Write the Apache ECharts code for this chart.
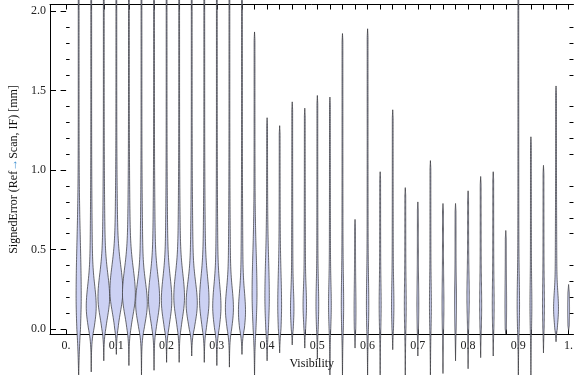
<!DOCTYPE html>
<html>
<head>
<meta charset="utf-8">
<script src="https://cdn.jsdelivr.net/npm/echarts@6/dist/echarts.min.js"></script>
<style>html,body{margin:0;padding:0;background:#fff}#c{width:576px;height:375px}</style>
</head>
<body>
<div id="c"></div>
<script>
// Violin positions (Visibility)
const positions = [0.025,0.05,0.075,0.1,0.125,0.15,0.175,0.2,0.225,0.25,
  0.275,0.3,0.325,0.35,0.375,0.4,0.425,0.45,0.475,0.5,
  0.525,0.55,0.575,0.6,0.625,0.65,0.675,0.7,0.725,0.75,
  0.775,0.8,0.825,0.85,0.875,0.9,0.925,0.95,0.975,1.0];
// Upper extreme of each distribution (mm)
const upper = [2.5,2.5,2.5,2.5,2.5,2.5,2.5,2.5,2.5,2.5,
  2.5,2.5,2.5,2.5,1.87,1.33,1.28,1.43,1.39,1.47,
  1.46,1.86,0.69,1.89,0.99,1.38,0.89,0.80,1.06,0.79,
  0.79,0.87,0.96,0.99,0.62,2.5,1.21,1.03,1.53,0.28];
// Lower extreme of each distribution (mm)
const lower = [-0.32,-0.27,-0.20,-0.16,-0.23,-0.32,-0.26,-0.21,-0.21,-0.17,
  -0.21,-0.23,-0.24,-0.16,-0.32,-0.20,-0.15,-0.10,-0.12,-0.19,
  -0.32,-0.32,-0.12,-0.32,-0.32,-0.13,-0.32,-0.17,-0.32,-0.28,
  -0.20,-0.25,-0.18,-0.17,-0.03,-0.32,-0.32,-0.15,-0.08,-0.01];
// Mode (densest value) of each distribution (mm)
const mode = [0.20,0.14,0.20,0.24,0.22,0.16,0.19,0.18,0.20,0.16,
  0.18,0.14,0.13,0.11,0.22,0.20,0.15,0.13,0.15,0.15,
  0.15,0.15,0.12,0.15,0.15,0.15,0.15,0.15,0.15,0.15,
  0.15,0.20,0.15,0.15,0.15,0.15,0.15,0.15,0.13,0.12];
// Relative peak density (1 = widest violin)
const peak = [0.36,0.76,0.90,1.00,1.00,0.90,0.86,0.80,0.82,0.86,
  0.72,0.62,0.60,0.52,0.34,0.30,0.25,0.22,0.22,0.16,
  0.16,0.13,0.09,0.13,0.10,0.13,0.09,0.09,0.09,0.09,
  0.09,0.13,0.10,0.09,0.07,0.13,0.09,0.09,0.34,0.09];
// Spread of the core of each distribution (mm)
const spread = [0.30,0.12,0.13,0.14,0.14,0.12,0.13,0.13,0.13,0.12,
  0.13,0.12,0.11,0.11,0.22,0.20,0.17,0.10,0.10,0.12,
  0.12,0.15,0.12,0.15,0.12,0.12,0.12,0.12,0.12,0.12,
  0.12,0.12,0.12,0.12,0.12,0.15,0.12,0.12,0.09,0.08];

const xLabelValues = [0,0.1,0.2,0.3,0.4,0.5,0.6,0.7,0.8,0.9,1.0];
const xLabelTexts = ['0.','0.1','0.2','0.3','0.4','0.5','0.6','0.7','0.8','0.9','1.'];
const yLabelValues = [0,0.5,1,1.5,2];
const yLabelTexts = ['0.0','0.5','1.0','1.5','2.0'];
const yMinorValues = [0.1,0.2,0.3,0.4,0.6,0.7,0.8,0.9,1.1,1.2,1.3,1.4,1.6,1.7,1.8,1.9];
const xTickValues = [0].concat(positions);

const data = positions.map((p,i)=>[p, lower[i], upper[i], mode[i], peak[i], spread[i]]);

const FONT = 'Liberation Serif';
const HALF_W = 0.012; // max half width in x units

function renderItem(params, api){
  const x = api.value(0), lo = api.value(1), hi = api.value(2), m = api.value(3), pk = api.value(4), s = api.value(5);
  const wpx = api.size([HALF_W, 0])[0] * pk;
  const needle = 0.4;
  const N = 160;
  const right = [], left = [];
  for (let j = 0; j <= N; j++){
    const v = lo + (hi - lo) * j / N;
    const d = v - m;
    let sh;
    if (d >= 0) sh = 0.78*Math.exp(-0.5*(d/(s*1.1))**2) + 0.22*Math.exp(-0.5*(d/0.42)**2);
    else sh = 0.75*Math.exp(-0.5*(d/s)**2) + 0.25*Math.exp(-0.5*(d/0.12)**2);
    const tTop = Math.min(1, (hi - v)/0.05);
    const tBot = Math.min(1, (v - lo)/Math.max(0.03, -lo));
    const hw = (wpx*sh + needle) * tTop * tBot;
    const c = api.coord([x, v]);
    right.push([c[0] + hw, c[1]]);
    left.push([c[0] - hw, c[1]]);
  }
  const pts = right.concat(left.reverse());
  return {
    type: 'polygon',
    shape: {points: pts},
    style: {fill: '#ccd1f3', stroke: 'rgba(50,50,55,0.8)', lineWidth: 0.9}
  };
}

const xMin = -0.03204, xMax = 1.0097;
const yMin = -0.0346, yMax = 2.0428;
const axisCol = '#000';
const labelStyle = {fontFamily: FONT, fontSize: 12, color: '#222'};

const chart = echarts.init(document.getElementById('c'), null, {renderer:'canvas'});
chart.setOption({
  animation: false,
  grid: {left: 39.5, right: 0, top: 4.5, bottom: 40.5, containLabel: false},
  xAxis: [
    {type:'value', position:'bottom', min:xMin, max:xMax,
      axisLine:{show:true, onZero:false, lineStyle:{color:axisCol, width:1}},
      axisTick:{show:true, inside:true, length:5, customValues:xTickValues, lineStyle:{color:axisCol}},
      axisLabel:{show:true, margin:5, customValues:xLabelValues, ...labelStyle,
        formatter:(v)=>{const i = xLabelValues.findIndex(t=>Math.abs(t-v)<1e-6); return i>=0?xLabelTexts[i]:'';}},
      splitLine:{show:false},
      name:'Visibility', nameLocation:'middle', nameGap:23,
      nameTextStyle:{fontFamily:FONT, fontSize:12, color:'#111'}},
    {type:'value', position:'top', min:xMin, max:xMax,
      axisLine:{show:true, onZero:false, lineStyle:{color:axisCol, width:1}},
      axisTick:{show:true, inside:true, length:5, customValues:xTickValues, lineStyle:{color:axisCol}},
      axisLabel:{show:false}, splitLine:{show:false}}
  ],
  yAxis: [
    {type:'value', position:'left', min:yMin, max:yMax,
      axisLine:{show:true, onZero:false, lineStyle:{color:axisCol, width:1}},
      axisTick:{show:true, inside:true, length:6, customValues:yLabelValues, lineStyle:{color:axisCol}},
      axisLabel:{show:true, margin:4, customValues:yLabelValues, ...labelStyle,
        formatter:(v)=>{const i = yLabelValues.findIndex(t=>Math.abs(t-v)<1e-6); return i>=0?yLabelTexts[i]:'';}},
      splitLine:{show:false},
      name:'SignedError (Ref{a|→}Scan, IF) [mm]', nameLocation:'middle', nameGap:30, nameRotate:90,
      nameTextStyle:{fontFamily:FONT, fontSize:12, color:'#111', rich:{a:{fontFamily:FONT, fontSize:12, color:'#3d8fd0'}}}},
    {type:'value', position:'left', min:yMin, max:yMax,
      axisLine:{show:false},
      axisTick:{show:true, inside:true, length:3.5, customValues:yMinorValues, lineStyle:{color:axisCol}},
      axisLabel:{show:false}, splitLine:{show:false}},
    {type:'value', position:'right', min:yMin, max:yMax,
      axisLine:{show:false},
      axisTick:{show:true, inside:true, length:5.5, customValues:yLabelValues, lineStyle:{color:axisCol}},
      axisLabel:{show:false}, splitLine:{show:false}},
    {type:'value', position:'right', min:yMin, max:yMax,
      axisLine:{show:false},
      axisTick:{show:true, inside:true, length:4, customValues:yMinorValues, lineStyle:{color:axisCol}},
      axisLabel:{show:false}, splitLine:{show:false}}
  ],
  series: [{
    type:'custom', xAxisIndex:0, yAxisIndex:0, clip:false, z:3,
    renderItem: renderItem,
    encode:{x:0, y:[1,2]},
    data: data
  }]
});
</script>
</body>
</html>
